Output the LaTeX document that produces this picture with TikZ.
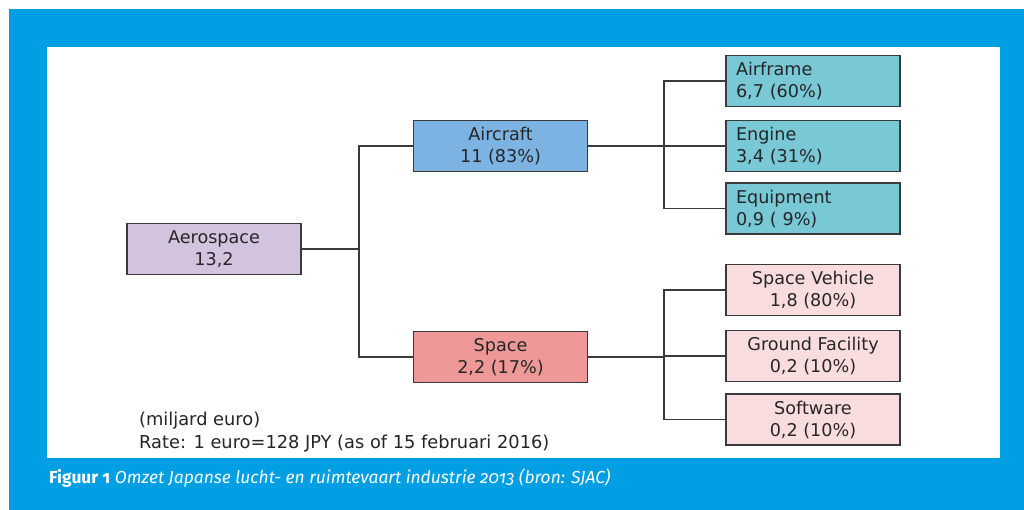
\documentclass[tikz,border=0pt]{standalone}
\usepackage{fontspec}
\setmainfont{DejaVu Sans}
\newfontfamily\capfont[Numbers=OldStyle]{Fira Sans}
\usetikzlibrary{positioning}

\definecolor{frameblue}{HTML}{009FE3}
\definecolor{aerofill}{HTML}{D3C3DF}
\definecolor{aircfill}{HTML}{7DB3E3}
\definecolor{partfill}{HTML}{78C8D6}
\definecolor{spacefill}{HTML}{EE9898}
\definecolor{subfill}{HTML}{F9DDDE}
\definecolor{linegray}{HTML}{3A3A3A}

\tikzset{
	box/.style={draw=linegray, line width=1.4pt, minimum width=174pt, minimum height=51pt,
		inner sep=0pt, text=black!85, font=\fontsize{17.6}{22}\selectfont},
	midbox/.style={box, align=center},
	leftbox/.style={box, text width=154pt, align=left},
	conn/.style={draw=linegray, line width=1.4pt},
	notetext/.style={anchor=base west, inner sep=0pt, text=black!85, font=\fontsize{17.8}{23}\selectfont},
}

\begin{document}
\begin{tikzpicture}[x=1pt, y=-1pt]
		\useasboundingbox (0,0) rectangle (1024,510);
		\fill[frameblue] (9,9) rectangle (1024,510);
		\fill[white] (47,47) rectangle (1000,458);

		\node[midbox, fill=aerofill] (aero) at (214,249) {Aerospace\\13,2};
		\node[midbox, fill=aircfill] (aircraft) at (500.5,146) {Aircraft\\11 (83\%)};
		\node[midbox, fill=spacefill] (space) at (500.5,357) {Space\\2,2 (17\%)};

		\node[leftbox, fill=partfill] (airframe) at (813,81) {Airframe\\6,7 (60\%)};
		\node[leftbox, fill=partfill] (engine) at (813,146) {Engine\\3,4 (31\%)};
		\node[leftbox, fill=partfill] (equip) at (813,208.5) {Equipment\\0,9 ( 9\%)};

		\node[midbox, fill=subfill] (vehicle) at (813,290) {Space Vehicle\\1,8 (80\%)};
		\node[midbox, fill=subfill] (ground) at (813,356) {Ground Facility\\0,2 (10\%)};
		\node[midbox, fill=subfill] (soft) at (813,419.5) {Software\\0,2 (10\%)};

		\coordinate (jroot) at (359,249);
		\coordinate (jair) at (664,146);
		\coordinate (jspace) at (664,357);

		\path[conn] (aero.east) -- (jroot);
		\path[conn] (aircraft.west) -| (jroot) |- (space.west);
		\path[conn] (aircraft.east) -- (engine.west);
		\path[conn] (airframe.west) -| (jair) |- (equip.west);
		\path[conn] (space.east) -- (jspace);
		\path[conn] (vehicle.west) -| (jspace) |- (soft.west);
		\path[conn] (ground.west) -- (ground.west -| jspace);

		\node[notetext] (unit) at (139,425) {(miljard euro)};
		\node[notetext] (rate) at (139,448) {Rate: 1 euro=128 JPY (as of 15 februari 2016)};
		\node[anchor=base west, inner sep=0pt, text=white, font=\capfont\fontsize{17.4}{20}\selectfont] (caption) at (49,483)
			{\textbf{Figuur 1} \textit{Omzet Japanse lucht- en ruimtevaart industrie 2013 (bron: SJAC)}};
	\end{tikzpicture}
\end{document}
